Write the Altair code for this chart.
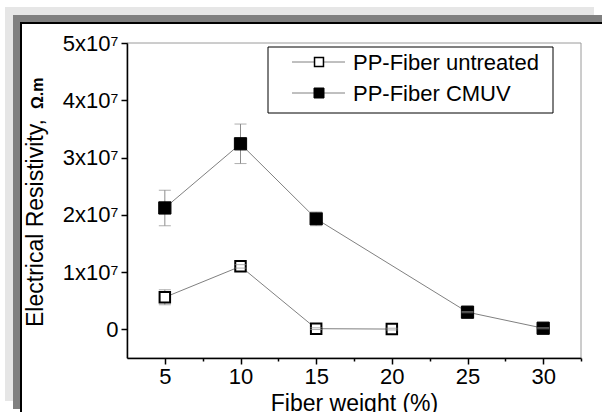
import altair as alt
import pandas as pd

# ---- data ----
series_names = ["PP-Fiber untreated", "PP-Fiber CMUV"]

x_untreated = [5, 10, 15, 20]
y_untreated = [5.6e6, 1.10e7, 1.2e5, 5e4]
err_untreated = [1.3e6, 3e5, 1.5e5, 1.5e5]

x_cmuv = [5, 10, 15, 25, 30]
y_cmuv = [2.12e7, 3.24e7, 1.93e7, 3.0e6, 2e5]
err_cmuv = [3.1e6, 3.45e6, 1.2e6, 1e5, 1e5]

x_ticks = [5, 7.5, 10, 12.5, 15, 17.5, 20, 22.5, 25, 27.5, 30, 32.5]
y_ticks = [0, 5e6, 1e7, 1.5e7, 2e7, 2.5e7, 3e7, 3.5e7, 4e7, 4.5e7, 5e7]

x_title = "Fiber weight (%)"
y_title_main = "Electrical Resistivity,"
y_title_unit = "Ω.m"

FONT = "Liberation Sans"
LINE_GREY = "#808080"
ERR_GREY = "#8c8c8c"

def frame(xs, ys, es):
    return pd.DataFrame({"x": xs, "y": ys,
                         "lo": [v - e for v, e in zip(ys, es)],
                         "hi": [v + e for v, e in zip(ys, es)]})

df_u = frame(x_untreated, y_untreated, err_untreated)
df_c = frame(x_cmuv, y_cmuv, err_cmuv)
one = pd.DataFrame({"k": [0]})

xscale = alt.Scale(domain=[2.5, 32.5], nice=False, zero=False)
yscale = alt.Scale(domain=[-5e6, 5e7], nice=False, zero=False)

xaxis = alt.Axis(
    values=x_ticks,
    labelExpr="datum.value % 5 === 0 ? datum.label : ''",
    tickSize={"condition": {"test": "datum.value % 5 === 0", "value": 6}, "value": 3},
    labelOverlap=False, labelFlush=False, labelPadding=2,
    title=x_title, titleFont=FONT, titleFontSize=23, titleFontWeight="normal",
    titleBaseline="alphabetic", titleY=52, titleColor="black", zindex=1,
)
yaxis = alt.Axis(
    values=y_ticks,
    labelExpr="datum.value % 10000000 === 0 ? (datum.value === 0 ? '0' : (datum.value / 10000000) + 'x10\u2077') : ''",
    tickSize={"condition": {"test": "datum.value % 10000000 === 0", "value": 6}, "value": 3},
    labelOverlap=False, labelFlush=False, labelPadding=3,
    title=None, zindex=1,
)

X = alt.X("x:Q", scale=xscale, axis=xaxis)
Y = alt.Y("y:Q", scale=yscale, axis=yaxis)

# ---- decorative page frame (margins only, pixel offsets from plot origin) ----
def strip(color, x0, x1, y0, y1):
    return alt.Chart(one).mark_rect(color=color).encode(
        x=alt.value(x0), x2=alt.value(x1), y=alt.value(y0), y2=alt.value(y1))

frame_layers = [
    strip("#e6e6e6", -122, 467, -36, -28),
    strip("#e6e6e6", -122, -114, -36, 358),
    strip("#808080", -114, 480, -28, -21),
    strip("#808080", -114, -107, -28, 366),
    strip("black", -107, 480, -21, -19),
    strip("black", -107, -105, -21, 380),
]
plot_frame = alt.Chart(one).mark_rect(fill=None, stroke="#9a9a9a", strokeWidth=1).encode(
    x=alt.value(0), x2=alt.value(454), y=alt.value(0), y2=alt.value(315))

# ---- data layers ----
line_u = alt.Chart(df_u).mark_line(color=LINE_GREY, strokeWidth=1).encode(x=X, y=Y)
line_c = alt.Chart(df_c).mark_line(color=LINE_GREY, strokeWidth=1).encode(x=X, y=Y)

def err_rule(df):
    return alt.Chart(df).mark_rule(color=ERR_GREY, strokeWidth=1).encode(
        x=alt.X("x:Q", scale=xscale), y=alt.Y("lo:Q", scale=yscale), y2="hi:Q")

def err_caps(df):
    lo = alt.Chart(df).mark_tick(color=ERR_GREY, orient="horizontal", size=12, thickness=1).encode(
        x=alt.X("x:Q", scale=xscale), y=alt.Y("lo:Q", scale=yscale))
    hi = alt.Chart(df).mark_tick(color=ERR_GREY, orient="horizontal", size=12, thickness=1).encode(
        x=alt.X("x:Q", scale=xscale), y=alt.Y("hi:Q", scale=yscale))
    return lo + hi

pts_u = alt.Chart(df_u).mark_point(shape="square", size=110, filled=True, fill="white",
                                   stroke="black", strokeWidth=2, opacity=1).encode(x=X, y=Y)
pts_c = alt.Chart(df_c).mark_point(shape="square", size=150, filled=True, fill="black",
                                   stroke="black", strokeWidth=1, opacity=1).encode(x=X, y=Y)

# ---- y-axis title (two styles) ----
ytitle_main = alt.Chart(one).mark_text(
    text=y_title_main, angle=270, align="left", baseline="alphabetic",
    font=FONT, fontSize=23, color="black").encode(x=alt.value(-84), y=alt.value(284))
ytitle_unit = alt.Chart(one).mark_text(
    text=y_title_unit, angle=270, align="left", baseline="alphabetic",
    font=FONT, fontSize=16, fontWeight="bold", color="black").encode(x=alt.value(-84), y=alt.value(66))

# ---- legend ----
leg_box = alt.Chart(one).mark_rect(fill="white", stroke="black", strokeWidth=1).encode(
    x=alt.value(141), x2=alt.value(426), y=alt.value(4), y2=alt.value(70))

def leg_row(label, ypx, fill, size, sw):
    ln = alt.Chart(one).mark_rule(color=LINE_GREY, strokeWidth=1).encode(
        x=alt.value(165), x2=alt.value(218), y=alt.value(ypx))
    mk = alt.Chart(one).mark_point(shape="square", size=size, filled=True, fill=fill,
                                   stroke="black", strokeWidth=sw, opacity=1).encode(
        x=alt.value(192), y=alt.value(ypx))
    tx = alt.Chart(one).mark_text(text=label, align="left", baseline="middle",
                                  font=FONT, fontSize=22, color="black").encode(
        x=alt.value(226), y=alt.value(ypx + 1))
    return ln + mk + tx

legend = leg_box + leg_row(series_names[0], 19, "white", 80, 1.5) + leg_row(series_names[1], 50, "black", 100, 1)

chart = alt.layer(
    *frame_layers, plot_frame,
    line_u, line_c,
    err_rule(df_c), err_rule(df_u),
    pts_c, pts_u,
    err_caps(df_c), err_caps(df_u),
    ytitle_main, ytitle_unit,
    legend,
).properties(
    width=454, height=315,
    autosize=alt.AutoSizeParams(type="none"),
    padding={"left": 127, "top": 43, "right": 21, "bottom": 54},
    background="white",
).configure_view(
    stroke=None
).configure_axis(
    grid=False, domainColor="black", domainWidth=1.5, tickColor="black", tickWidth=1.5,
    labelFont=FONT, labelFontSize=22, labelColor="black",
)

chart.save("out.html", embed_options={"renderer": "svg", "actions": False})
